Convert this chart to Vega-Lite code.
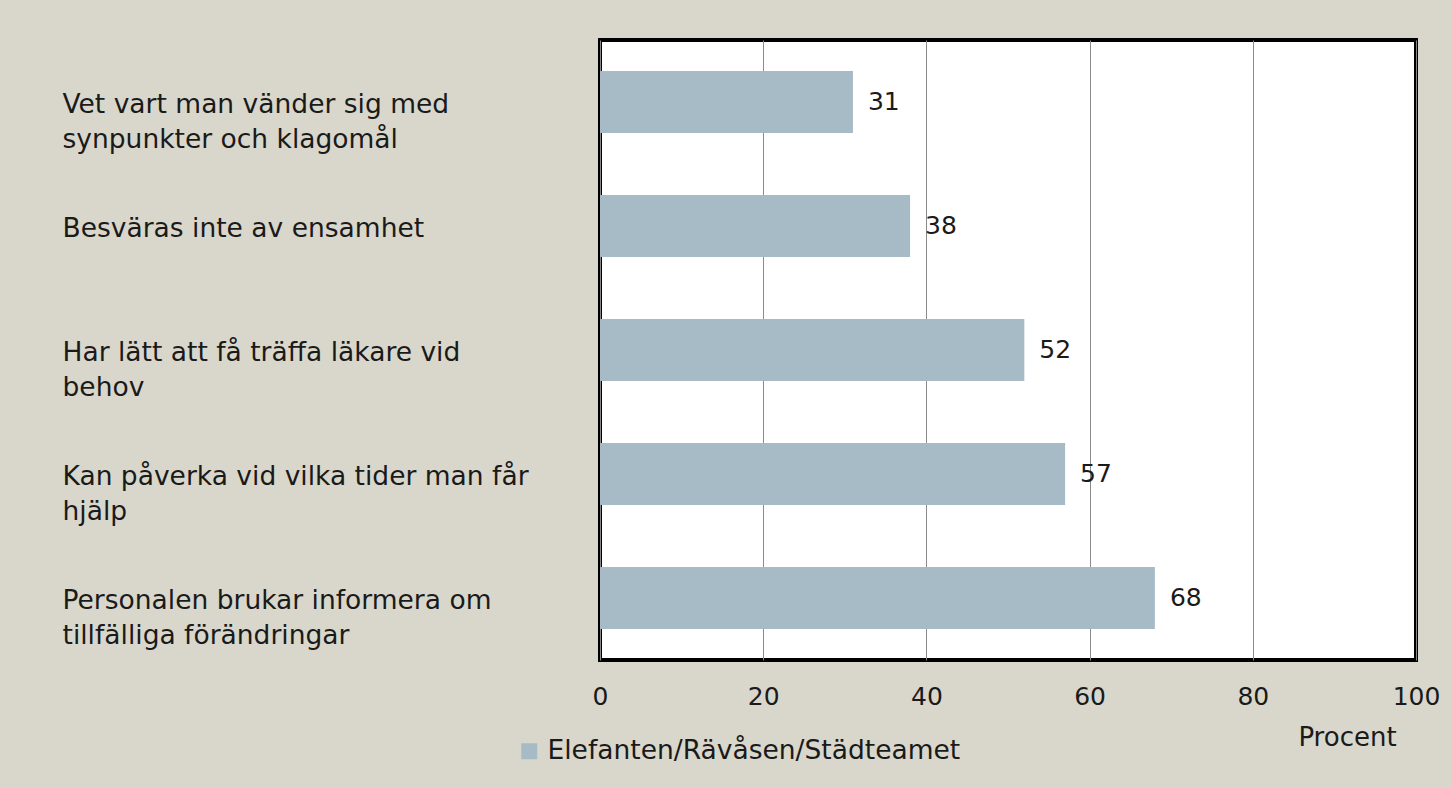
{
  "$schema": "https://vega.github.io/schema/vega-lite/v6.json",
  "width": 816,
  "height": 620,
  "autosize": {"type": "none"},
  "padding": {"left": 600, "top": 40, "right": 36, "bottom": 128},
  "background": "#d9d7cb",
  "config": {
    "view": {"fill": "white", "stroke": "black", "strokeWidth": 4},
    "font": "DejaVu Sans"
  },
  "data": {
    "values": [
      {"cat": "Vet vart man vänder sig med|synpunkter och klagomål", "value": 31, "series": "Elefanten/Rävåsen/Städteamet"},
      {"cat": "Besväras inte av ensamhet", "value": 38, "series": "Elefanten/Rävåsen/Städteamet"},
      {"cat": "Har lätt att få träffa läkare vid|behov", "value": 52, "series": "Elefanten/Rävåsen/Städteamet"},
      {"cat": "Kan påverka vid vilka tider man får|hjälp", "value": 57, "series": "Elefanten/Rävåsen/Städteamet"},
      {"cat": "Personalen brukar informera om|tillfälliga förändringar", "value": 68, "series": "Elefanten/Rävåsen/Städteamet"}
    ]
  },
  "encoding": {
    "y": {
      "field": "cat",
      "type": "nominal",
      "sort": null,
      "scale": {"paddingInner": 0.5, "paddingOuter": 0.25},
      "axis": {
        "title": null,
        "ticks": false,
        "tickSize": 0,
        "domain": false,
        "labelAlign": "left",
        "labelBaseline": "middle",
        "labelPadding": 538,
        "labelLimit": 0,
        "labelFontSize": 26.5,
        "labelColor": "#1a1a1a",
        "labelLineHeight": 35,
        "labelOffset": 3,
        "labelExpr": "split(datum.label, '|')"
      }
    },
    "x": {
      "field": "value",
      "type": "quantitative",
      "scale": {"domain": [0, 100]},
      "axis": {
        "values": [0, 20, 40, 60, 80, 100],
        "grid": true,
        "gridColor": "#8a8a8a",
        "gridWidth": 1,
        "ticks": false,
        "tickSize": 0,
        "domain": false,
        "labelFontSize": 25,
        "labelColor": "#1a1a1a",
        "labelPadding": 24,
        "labelFlush": false,
        "title": "Procent",
        "titleFontSize": 26,
        "titleFontWeight": "normal",
        "titleColor": "#1a1a1a",
        "titleX": 747,
        "titleY": 77,
        "titleBaseline": "middle",
        "titleAlign": "center"
      }
    }
  },
  "layer": [
    {
      "mark": {"type": "bar"},
      "encoding": {
        "color": {
          "field": "series",
          "type": "nominal",
          "scale": {"range": ["#a7bbc6"]},
          "legend": {
            "title": null,
            "orient": "none",
            "legendX": -84,
            "legendY": 698,
            "symbolType": "square",
            "symbolSize": 256,
            "symbolStrokeWidth": 0,
            "labelFontSize": 26.5,
            "labelColor": "#1a1a1a",
            "labelLimit": 0,
            "labelOffset": 5
          }
        }
      }
    },
    {
      "mark": {"type": "text", "align": "left", "baseline": "middle", "dx": 15, "fontSize": 25, "color": "#1a1a1a"},
      "encoding": {"text": {"field": "value", "type": "quantitative"}}
    }
  ]
}
